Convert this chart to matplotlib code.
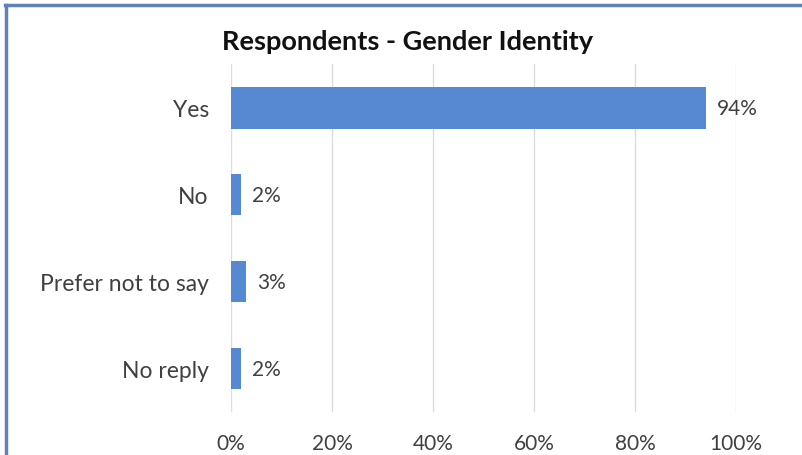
import matplotlib.pyplot as plt
from matplotlib.lines import Line2D

categories = ['Yes', 'No', 'Prefer not to say', 'No reply']
shares = [94, 2, 3, 2]
ticks = [0, 20, 40, 60, 80, 100]

plt.rcParams['font.family'] = ['Lato', 'DejaVu Sans']

fig = plt.figure(figsize=(8.03, 4.56), dpi=100)
ax = fig.add_axes([0.2877, 0.0943, 0.6290, 0.7627])

pos = list(range(len(categories)))
bars = ax.barh(pos, shares, height=0.48, color='#5589d2', zorder=3)
ax.set_ylim(len(categories) - 0.5, -0.5)
ax.set_xlim(0, 100)

for b, v in zip(bars, shares):
    ax.annotate(f'{v}%', (b.get_width(), b.get_y() + b.get_height() / 2),
                xytext=(8, 0), textcoords='offset points', va='center',
                fontsize=15, color='#404040')

ax.set_yticks(pos)
ax.set_yticklabels(categories, fontsize=16.5, color='#404040')
ax.set_xticks(ticks)
ax.set_xticklabels([f'{t}%' for t in ticks], fontsize=15, color='#404040')
ax.tick_params(length=0)
ax.tick_params(axis='y', pad=16)
ax.tick_params(axis='x', pad=15)
ax.grid(axis='x', color='#dcdcdc', linewidth=1, zorder=0)
for s in ax.spines.values():
    s.set_visible(False)

fig.text(0.508, 0.908, 'Respondents - Gender Identity', ha='center', va='center',
         fontsize=19.5, fontweight='bold', color='#111111')

# frame lines on top and left edge
fig.add_artist(Line2D([0.006, 1.0], [0.986, 0.986], color='#5f82b4', linewidth=2.5))
fig.add_artist(Line2D([0.007, 0.007], [0.0, 0.986], color='#5f82b4', linewidth=2.5))

fig.savefig('out.png', dpi=100)
